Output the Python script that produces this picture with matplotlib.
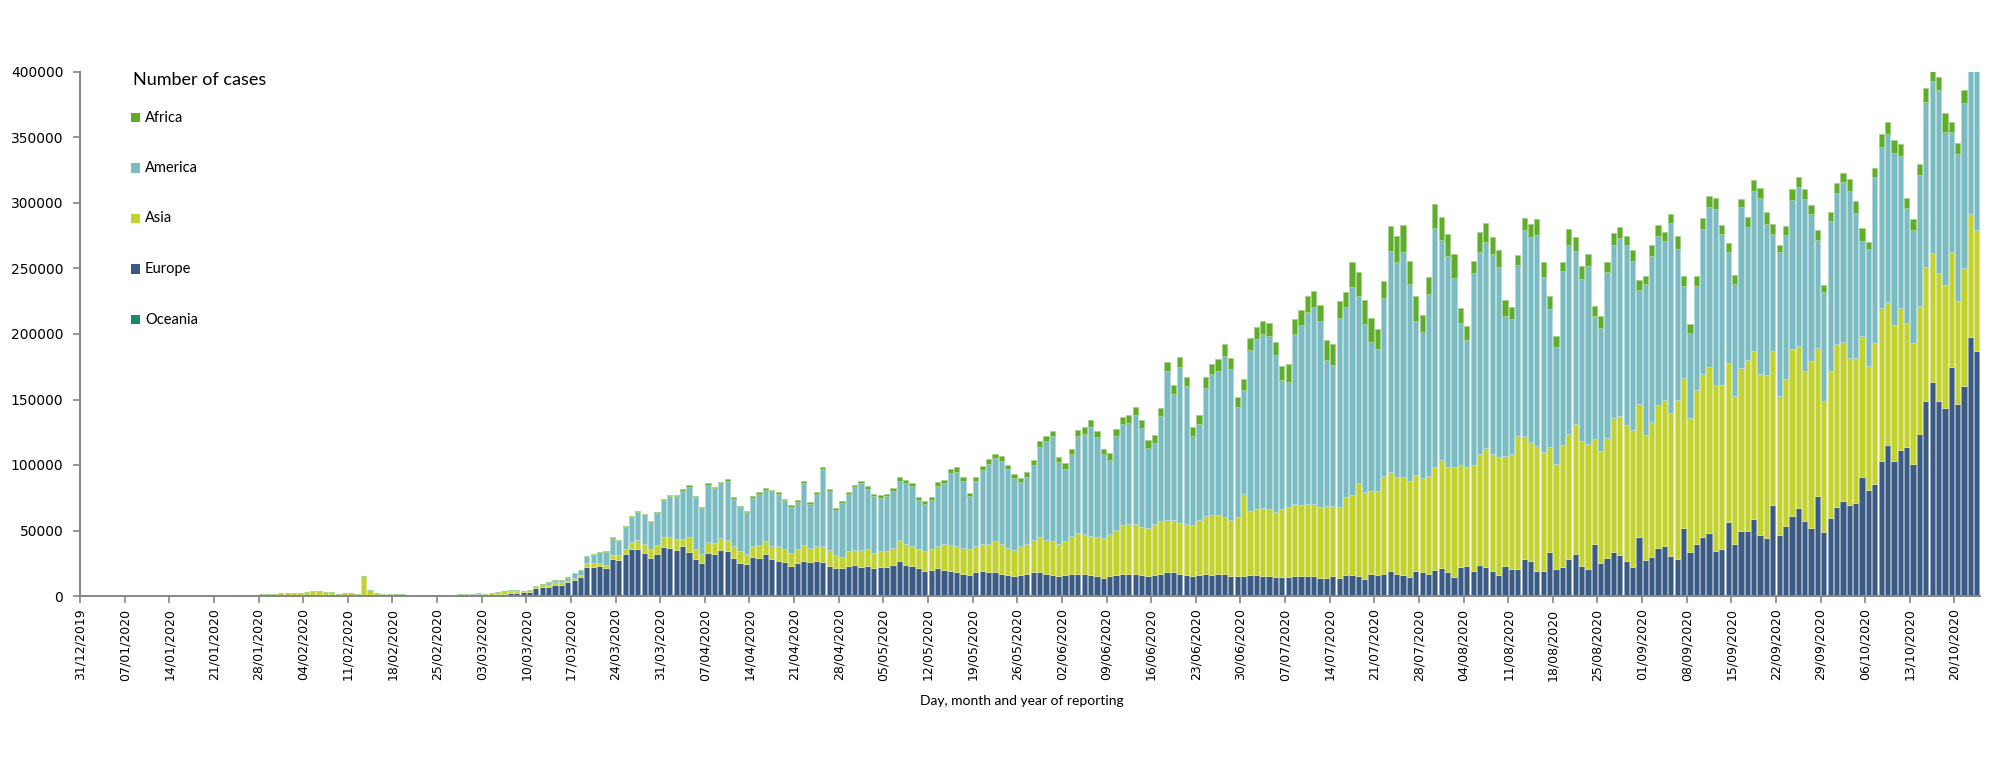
import numpy as np
import pandas as pd
import matplotlib
matplotlib.use('Agg')
import matplotlib.pyplot as plt
from matplotlib.colors import to_rgb
from matplotlib.patches import Rectangle

# Daily cases in thousands, 31/12/2019 .. 23/10/2020 (one line per month)
START_DATE = '2019-12-31'

europe = (
    [0]
    + [0] * 31
    + [0, 0, 0, 0, 0, 0, 0, 0, 0, 0, 0, 0, 0, 0, 0, 0, 0, 0, 0, 0, 0, 0, 0, 0, 0.1, 0.3, 0.4, 0.6, 0.5]
    + [0.5, 0.6, 0.7, 0.8, 1.2, 1.8, 2.2, 2.5, 2.8, 3.3, 6.1, 6.6, 7.1, 8.6, 8.6, 10.4, 12.2, 14.5, 22.3, 22.3,
       22.3, 20.8, 27.9, 26.9, 31.7, 35.8, 35.8, 32.2, 28.4, 31.5, 36.8]
    + [36.3, 34.8, 37.5, 33.0, 28, 25, 33, 32, 35, 34, 29, 25, 24, 30, 29, 32, 28, 27, 26, 23,
       25, 27, 26, 27, 26, 23, 21, 21, 23, 24]
    + [22, 23, 21, 22, 22, 24, 27, 24, 23, 21, 19, 20, 21, 20, 19, 18, 17, 16, 18, 19,
       18, 18, 17, 16, 15, 16, 17, 18, 18, 17, 16]
    + [15, 16, 17, 17, 17, 16, 15, 14, 15, 16, 17, 17, 17, 16, 15, 16, 17, 18, 18, 17,
       16, 15, 16, 17, 16, 17, 17, 15, 15, 15]
    + [16, 16, 15, 15, 14, 14, 14, 15, 15, 14.7, 14.7, 13.4, 13.4, 14.7, 13.4, 16, 16, 14.7, 12.9, 16.5,
       15.2, 16.5, 18.3, 16.0, 15.5, 14.2, 18.5, 18.0, 16.0, 19.0, 20.8]
    + [17.3, 14.2, 21.6, 22.3, 18.5, 23.3, 21.6, 19.0, 15.5, 22.6, 20.3, 20.3, 27.9, 26.1, 19.0, 19.0, 33.7, 20.3, 22.1, 28.2,
       32.0, 22.6, 20.3, 39.3, 24.9, 28.7, 33.5, 31.2, 26.4, 22.3, 44.7]
    + [27.4, 29.9, 36.3, 38.1, 30.7, 28.2, 51.5, 33.7, 39.6, 44.7, 47.7, 34.6, 36.0, 56.7, 39.3, 49.9, 49.4, 58.9, 46.6, 44.1,
       69.5, 46.4, 53.7, 61.1, 66.8, 57.3, 51.8, 76.1, 48.8, 59.7]
    + [68.2, 72.8, 69.3, 71.2, 91.1, 81.0, 85.6, 103.4, 115.1, 102.8, 111.8, 113.4, 100.9, 123.3, 148.6, 163.3, 148.6, 143.2, 175.1, 146.4,
       160.6, 197.4, 187.3]
)

asia = (
    [0.03]
    + [0, 0, 0.02, 0, 0.01, 0, 0, 0, 0, 0, 0, 0, 0, 0, 0, 0, 0, 0, 0.02, 0.08, 0.15, 0.15, 0.26, 0.45,
       0.6, 0.7, 0.8, 1.9, 1.9, 1.8, 2.0]
    + [2.0, 2.3, 2.5, 3.0, 3.8, 3.7, 3.1, 3.0, 1.8, 2.5, 2.4, 1.3, 15.2, 4.2, 2.5, 1.5, 1.3, 1.3, 1.2, 0.4,
       0.3, 0.8, 0.9, 0.5, 0.8, 0.6, 0.6, 0.6, 1.2]
    + [1.2, 1.3, 1.1, 1.4, 1.5, 1.8, 1.7, 1.5, 1.0, 1.2, 1.2, 1.4, 1.6, 1.7, 1.8, 1.0, 1.8, 1.3, 2.6, 2.6,
       3.0, 2.3, 3.1, 3.8, 3.8, 5.0, 6.8, 7.1, 6.9, 7.3, 8.1]
    + [8.1, 8.6, 5.6, 11.9, 8, 7, 8, 8, 9, 9, 9, 9, 8, 8, 10, 10, 10, 11, 10, 10,
       11, 12, 11, 11, 12, 12, 10, 9, 11, 11]
    + [13, 13, 12, 12, 12, 13, 16, 16, 15, 15, 15, 16, 17, 20, 20, 20, 20, 20, 20, 21,
       22, 24, 23, 21, 20, 22, 23, 25, 27, 26, 26]
    + [25, 26, 29, 31, 30, 30, 30, 30, 32, 34, 37, 38, 38, 37, 37, 39, 40, 40, 40, 39,
       39, 39, 42, 44, 46, 45, 43, 43, 45, 63]
    + [49, 50, 52, 51, 50, 52, 54, 55, 54, 55.1, 55.3, 54.3, 55.1, 53.8, 54.3, 59.3, 60.9, 71.5, 66.2, 63.6,
       64.2, 74.8, 75.5, 74.0, 74.6, 73.3, 73.1, 71.6, 75.3, 78.7, 82.2]
    + [80.6, 83.7, 77.6, 75.4, 81.2, 84.8, 90.8, 89.1, 90.5, 84.2, 87.7, 101.2, 93.9, 91.4, 95.4, 90.9, 79.7, 80.2, 92.6, 95.6,
       99.2, 95.9, 95.6, 80.2, 85.5, 92.1, 102.5, 105.8, 103.7, 104.0, 101.9]
    + [95.1, 102.8, 109.8, 111.1, 108.8, 121.5, 114.9, 102.3, 117.7, 124.4, 127.3, 126.3, 125.4, 121.1, 113.4, 124.4, 130.9, 128.4, 122.5, 124.2,
       117.8, 106.3, 111.8, 127.6, 124.1, 114.2, 127.9, 113.4, 99.8, 112.1]
    + [123.8, 121.4, 112.6, 110.7, 107.2, 94.9, 107.7, 116.7, 109.1, 104.2, 108.3, 95.2, 91.9, 98.1, 102.6, 98.2, 98.2, 93.8, 87.2, 79.1,
       89.5, 94.4, 91.9]
)

america = (
    [0]
    + [0] * 31
    + [0, 0, 0, 0, 0, 0, 0, 0, 0, 0, 0, 0, 0, 0, 0, 0, 0, 0, 0, 0, 0, 0.1, 0.1, 0, 0, 0.05, 0.1, 0.1, 0.1]
    + [0.1, 0.1, 0.1, 0.1, 0.1, 0.2, 0.3, 0.3, 0.3, 0.3, 0.5, 0.7, 1.5, 1.7, 1.6, 2.6, 3.1, 4.0, 5.5, 6.3,
       8.1, 10.3, 13.0, 11.0, 17.0, 19.2, 21.4, 22.4, 20.6, 24.3, 28.1]
    + [31.8, 32.7, 37.0, 38.3, 39, 35, 44, 42, 42, 45, 36, 34, 32, 37, 39, 39, 42, 40, 37, 35,
       36, 47, 33, 40, 59, 45, 35, 41, 44, 48]
    + [51, 46, 43, 41, 42, 43, 45, 46, 46, 37, 36, 37, 46, 46, 55, 57, 51, 40, 50, 56,
       61, 63, 63, 60, 55, 49, 51, 57, 69, 75, 80]
    + [62, 55, 62, 74, 77, 83, 76, 64, 57, 72, 77, 77, 83, 75, 61, 62, 80, 114, 96, 119,
       105, 68, 73, 98, 107, 110, 123, 115, 84, 79]
    + [123, 130, 133, 132, 120, 99, 95, 130, 138, 147, 150, 142.3, 111.5, 107.5, 144.3, 144.7, 158.5, 142.1, 127.9, 113.4,
       108.6, 135.7, 169.0, 164.4, 172.0, 150.0, 117.7, 111.6, 138.8, 182.6, 168.0]
    + [160.9, 144.1, 108.8, 97.6, 145.9, 153.7, 157.3, 152.9, 144.4, 106.8, 103.0, 130.9, 157.0, 156.0, 160.9, 133.1, 105.6, 89.0, 133.4, 144.1,
       132.1, 123.5, 135.8, 94.1, 93.8, 126.6, 131.9, 136.5, 137.8, 129.4, 86.8]
    + [115.2, 126.8, 128.9, 121.8, 145.4, 114.9, 69.8, 64.4, 79.2, 110.9, 122.2, 134.7, 114.6, 84.8, 85.6, 122.7, 101.7, 121.7, 134.4, 115.3,
       88.7, 109.6, 109.9, 113.7, 121.1, 131.7, 111.8, 82.4, 83.7, 114.3]
    + [115.3, 121.8, 127.6, 110.4, 73.0, 89.2, 126.3, 122.7, 128.7, 130.9, 115.9, 87.3, 86.4, 99.6, 125.7, 131.7, 139.6, 117.2, 91.9, 111.8,
       125.9, 125.0, 140.0]
)

africa = (
    [0]
    + [0] * 31
    + [0] * 29
    + [0, 0, 0, 0, 0, 0, 0, 0, 0, 0, 0.1, 0.2, 0.2, 0.2, 0.2, 0.2, 0.2, 0.2, 0.3, 0.3,
       0.3, 0.3, 0.4, 0.4, 0.5, 0.6, 0.7, 0.7, 0.7, 0.8, 0.8]
    + [0.9, 1.0, 1.1, 1.0, 0.9, 0.8, 1.2, 1.1, 1.0, 1.1, 1.2, 1.0, 0.9, 1.1, 1.2, 1.3, 1.2, 1.3, 1.2, 1.1,
       1.4, 1.5, 1.4, 1.6, 1.7, 1.6, 1.4, 1.5, 1.7, 1.8]
    + [2.0, 2.1, 2.0, 1.9, 2.2, 2.3, 2.5, 2.6, 2.5, 2.4, 2.3, 2.6, 2.8, 2.9, 3.0, 3.1, 2.9, 2.7, 3.0, 3.3,
       3.4, 3.5, 3.6, 3.2, 3.0, 3.3, 3.6, 3.8, 4.0, 4.2, 4.1]
    + [4.0, 4.2, 4.5, 4.7, 4.9, 5.0, 4.8, 4.5, 4.9, 5.2, 5.6, 6.0, 6.3, 6.1, 5.8, 6.0, 6.5, 6.9, 7.2, 7.5,
       7.3, 6.8, 7.0, 7.8, 8.1, 8.5, 8.9, 8.4, 7.9, 8.2]
    + [9.0, 9.5, 10.1, 10.3, 9.8, 10.0, 14.0, 11.0, 11.5, 12.2, 12.8, 12.0, 15.0, 16.0, 13.0, 12.0, 19.3, 19.0, 18.8, 18.6,
       15.2, 12.7, 19.5, 19.8, 20.3, 17.7, 19.0, 12.9, 12.9, 18.6, 18.0]
    + [17.0, 18.3, 11.4, 10.4, 9.9, 15.2, 14.7, 13.0, 13.4, 12.2, 9.0, 7.9, 9.4, 10.1, 12.1, 11.5, 9.6, 8.6, 6.4, 11.9,
       10.4, 9.4, 9.6, 7.6, 9.2, 7.1, 9.1, 8.4, 7.1, 8.7, 8.1]
    + [6.4, 8.1, 8.1, 6.8, 6.9, 9.9, 8.1, 7.1, 7.6, 8.2, 7.9, 8.2, 7.3, 6.6, 6.9, 5.7, 7.1, 8.4, 7.9, 9.3,
       7.6, 5.8, 6.8, 8.2, 8.1, 7.4, 6.8, 7.3, 5.2, 7.0]
    + [8.2, 6.6, 8.7, 9.0, 9.3, 4.9, 6.8, 10.1, 9.0, 10.3, 8.7, 8.2, 8.5, 9.0, 10.9, 8.0, 10.1, 14.5, 7.7, 8.8,
       9.9, 9.0, 9.0]
)

oceania = (
    [0]
    + [0] * 31
    + [0] * 29
    + [0, 0, 0, 0, 0, 0, 0, 0, 0, 0, 0.02, 0.03, 0.04, 0.05, 0.06, 0.08, 0.1, 0.1, 0.15, 0.2,
       0.25, 0.3, 0.35, 0.4, 0.45, 0.4, 0.45, 0.5, 0.45, 0.4, 0.35]
    + [0.3, 0.3, 0.3, 0.25, 0.2, 0.15, 0.1, 0.1, 0.1, 0.1, 0.08, 0.07, 0.06, 0.05, 0.04, 0.04, 0.04, 0.03, 0.03, 0.03,
       0.02, 0.02, 0.02, 0.02, 0.02, 0.02, 0.02, 0.02, 0.02, 0.02]
    + [0.02, 0.02, 0.01, 0.02, 0.02, 0.02, 0.01, 0.02, 0.02, 0.01, 0.01, 0.02, 0.02, 0.01, 0.02, 0.01, 0.01, 0.02, 0.02, 0.01,
       0.01, 0.02, 0.02, 0.02, 0.01, 0.01, 0.02, 0.02, 0.02, 0.02, 0.02]
    + [0.02, 0.02, 0.02, 0.03, 0.03, 0.02, 0.02, 0.03, 0.03, 0.03, 0.03, 0.03, 0.04, 0.04, 0.03, 0.04, 0.05, 0.05, 0.05, 0.06,
       0.07, 0.08, 0.08, 0.09, 0.1, 0.1, 0.11, 0.12, 0.1, 0.1]
    + [0.1, 0.12, 0.15, 0.15, 0.15, 0.2, 0.2, 0.2, 0.2, 0.25, 0.3, 0.3, 0.3, 0.3, 0.3, 0.35, 0.4, 0.4, 0.4, 0.4,
       0.45, 0.5, 0.5, 0.5, 0.55, 0.5, 0.6, 0.55, 0.6, 0.6, 0.65]
    + [0.7, 0.6, 0.5, 0.5, 0.6, 0.5, 0.5, 0.4, 0.4, 0.4, 0.35, 0.35, 0.35, 0.3, 0.3, 0.3, 0.25, 0.25, 0.2, 0.2,
       0.2, 0.2, 0.15, 0.15, 0.15, 0.15, 0.1, 0.1, 0.1, 0.1, 0.1]
    + [0.1, 0.1, 0.08, 0.08, 0.08, 0.06, 0.06, 0.06, 0.05, 0.05, 0.05, 0.05, 0.04, 0.04, 0.04, 0.04, 0.04, 0.04, 0.03, 0.03,
       0.03, 0.03, 0.03, 0.03, 0.03, 0.03, 0.03, 0.03, 0.03, 0.03]
    + [0.03, 0.03, 0.03, 0.03, 0.03, 0.03, 0.03, 0.03, 0.03, 0.03, 0.03, 0.03, 0.03, 0.03, 0.03, 0.03, 0.03, 0.03, 0.03, 0.03,
       0.03, 0.03, 0.03]
)

# Stacked from the bottom up
SERIES = [
    ('Oceania', oceania, '#138C6E'),
    ('Europe', europe, '#3B5B84'),
    ('Asia', asia, '#C2D22F'),
    ('America', america, '#7BBCC3'),
    ('Africa', africa, '#5FAE2A'),
]
LEGEND_ORDER = ['Africa', 'America', 'Asia', 'Europe', 'Oceania']

LEGEND_TITLE = 'Number of cases'
X_LABEL = 'Day, month and year of reporting'
Y_MAX = 400000
TICK_EVERY = 7  # days
AXIS_COLOUR = '#868686'

# Figure size in pixels, used to place the legend by hand
FIG_W, FIG_H = 2000, 774


def tint(colour, amount=0.45):
    r, g, b = to_rgb(colour)
    return (r + (1 - r) * amount, g + (1 - g) * amount, b + (1 - b) * amount)


def draw_legend(fig, colours):
    """Excel-style legend: title, then one square + label per row"""
    fig.text(133 / FIG_W, 1 - 80 / FIG_H, LEGEND_TITLE, ha='left', va='center',
             fontsize=13, family='Lato')
    box = 9.5
    for i, name in enumerate(LEGEND_ORDER):
        y = 117.5 + i * 50.5
        fig.patches.append(Rectangle((130.5 / FIG_W, 1 - (y + box / 2) / FIG_H),
                                     box / FIG_W, box / FIG_H,
                                     transform=fig.transFigure,
                                     facecolor=colours[name], edgecolor='none'))
        fig.text(145 / FIG_W, 1 - y / FIG_H, name, ha='left', va='center',
                 fontsize=10.5, family='Lato')


def main():
    dates = pd.date_range(START_DATE, periods=len(europe), freq='D')
    x = np.arange(len(dates)) + 0.5

    fig = plt.figure(figsize=(FIG_W / 100, FIG_H / 100), dpi=100)
    ax = fig.add_axes([80 / FIG_W, 1 - 596 / FIG_H, 1900 / FIG_W, 524 / FIG_H])

    bottom = np.zeros(len(dates))
    colours = {}
    for name, values, colour in SERIES:
        cases = np.array(values, dtype=float) * 1000
        ax.bar(x, cases, bottom=bottom, width=0.82, color=colour,
               edgecolor=tint(colour), linewidth=0.6, label=name)
        colours[name] = colour
        bottom += cases

    ax.set_xlim(0, len(dates))
    ax.set_ylim(0, Y_MAX)

    # Axes styling
    for side in ('top', 'right'):
        ax.spines[side].set_visible(False)
    for side in ('left', 'bottom'):
        ax.spines[side].set_color(AXIS_COLOUR)
        ax.spines[side].set_linewidth(1.4)

    ax.set_yticks(np.arange(0, Y_MAX + 1, 50000))
    ax.set_yticklabels([f'{v:d}' for v in range(0, Y_MAX + 1, 50000)],
                       fontsize=10, family='DejaVu Sans')
    tick_pos = np.arange(0, len(dates), TICK_EVERY)
    ax.set_xticks(tick_pos)
    ax.set_xticklabels(dates[tick_pos].strftime('%d/%m/%Y'), rotation=90,
                       fontsize=9, family='DejaVu Sans')
    ax.tick_params(axis='both', direction='out', length=5, color=AXIS_COLOUR,
                   width=1.2, labelcolor='black')
    ax.tick_params(axis='y', pad=7)
    ax.tick_params(axis='x', pad=4)

    fig.text(0.511, 0.094, X_LABEL, ha='center', va='center',
             fontsize=10, family='Lato')

    draw_legend(fig, colours)

    fig.savefig('out.png', dpi=100, facecolor='white')


if __name__ == '__main__':
    main()
